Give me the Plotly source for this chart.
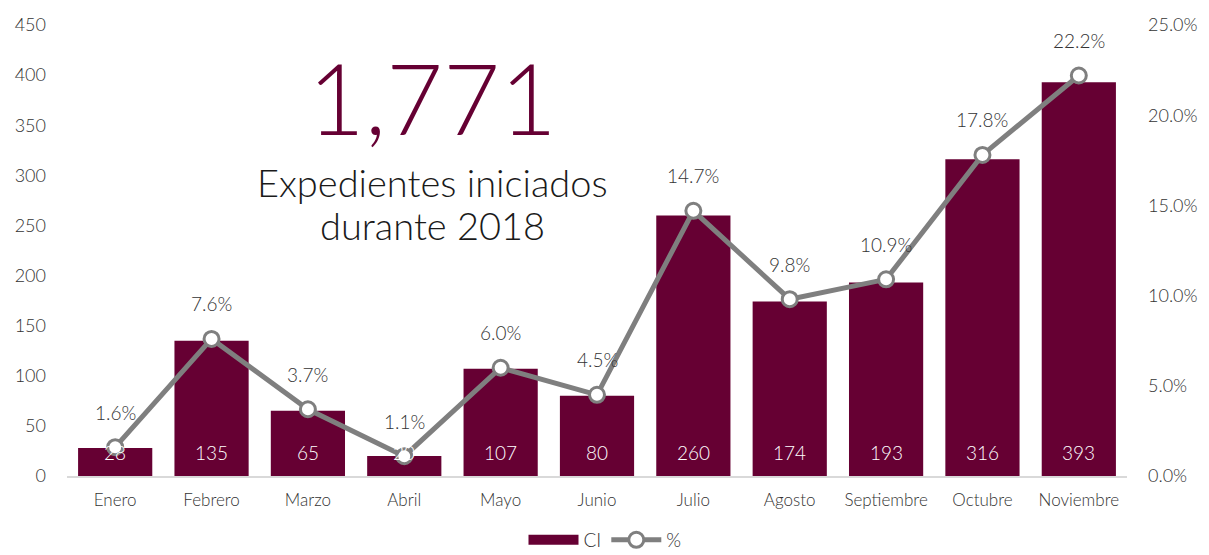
import plotly.graph_objects as go

months = ["Enero", "Febrero", "Marzo", "Abril", "Mayo", "Junio", "Julio",
          "Agosto", "Septiembre", "Octubre", "Noviembre"]
ci_values = [28, 135, 65, 20, 107, 80, 260, 174, 193, 316, 393]
pct_values = [1.6, 7.6, 3.7, 1.1, 6.0, 4.5, 14.7, 9.8, 10.9, 17.8, 22.2]
left_ticks = [0, 50, 100, 150, 200, 250, 300, 350, 400, 450]
right_ticks = [0, 5, 10, 15, 20, 25]
total_label = "1,771"
subtitle_1 = "Expedientes iniciados"
subtitle_2 = "durante 2018"

BAR = "#660033"
LINE = "#7f7f7f"
TXT = "#333333"
FONT = "Lato"
W = 300

# page body has an 8px margin; figure sized to fit the window exactly
OFF = 8
FW, FH = 1209 - OFF, 555 - OFF
L, T = 67 - OFF, 25 - OFF
R = FW - (1127 - OFF)
B = FH - (476 - OFF)
PW = FW - L - R
PH = FH - T - B


def py(win_y):
    return (476 - win_y) / PH


def px(win_x):
    return (win_x - 67) / PW


fig = go.Figure()
fig.add_trace(go.Bar(
    x=months, y=ci_values, name="CI", marker_color=BAR,
    marker_line_width=0, width=0.77, showlegend=False,
))
fig.add_trace(go.Scatter(
    x=[None], y=[None], name="CI", mode="lines",
    line=dict(color=BAR, width=14), showlegend=True,
))
fig.add_trace(go.Scatter(
    x=months, y=pct_values, name="%", yaxis="y2",
    mode="lines+markers",
    line=dict(color=LINE, width=5),
    marker=dict(size=15, color="white", line=dict(color=LINE, width=3)),
))

for m, v in zip(months, ci_values):
    fig.add_annotation(x=m, y=0, yref="y", text=str(v), showarrow=False,
                       yanchor="middle", yshift=24,
                       font=dict(family=FONT, size=19, color="white", weight=W))
for m, p in zip(months, pct_values):
    fig.add_annotation(x=m, y=p, yref="y2", text=f"{p:.1f}%", showarrow=False,
                       yanchor="middle", yshift=35,
                       font=dict(family=FONT, size=19, color=TXT, weight=W))

fig.add_annotation(xref="paper", yref="paper", x=px(432), y=py(97),
                   text=total_label, showarrow=False, xanchor="center", yanchor="middle",
                   font=dict(family=FONT, size=98, color=BAR, weight=W))
fig.add_annotation(xref="paper", yref="paper", x=px(432), y=py(182),
                   text=subtitle_1, showarrow=False, xanchor="center", yanchor="middle",
                   font=dict(family=FONT, size=38, color="#1a1a1a", weight=W))
fig.add_annotation(xref="paper", yref="paper", x=px(432), y=py(225),
                   text=subtitle_2, showarrow=False, xanchor="center", yanchor="middle",
                   font=dict(family=FONT, size=38, color="#1a1a1a", weight=W))

fig.update_layout(
    width=FW, height=FH,
    margin=dict(l=L, r=R, t=T, b=B, autoexpand=False),
    paper_bgcolor="white", plot_bgcolor="white",
    font=dict(family=FONT, color=TXT, weight=W),
    showlegend=True,
    legend=dict(orientation="h", x=px(605), xanchor="center", y=-(B + 4) / PH,
                yanchor="bottom", font=dict(family=FONT, size=19, color=TXT, weight=W),
                itemwidth=50, tracegroupgap=0),
    xaxis=dict(range=[-0.5, len(months) - 0.5], showgrid=False, showline=True,
               linecolor="#d9d9d9", linewidth=2, ticks="", automargin=False,
               ticklabelstandoff=8,
               tickfont=dict(family=FONT, size=17, color=TXT, weight=W)),
    yaxis=dict(range=[0, 450], tickvals=left_ticks, showgrid=False, zeroline=False,
               automargin=False,
               tickfont=dict(family=FONT, size=18, color=TXT, weight=W), ticklabelstandoff=20),
    yaxis2=dict(range=[0, 25], tickvals=right_ticks,
                ticktext=[f"{t:.1f}%" for t in right_ticks], overlaying="y",
                side="right", showgrid=False, zeroline=False, automargin=False,
                tickfont=dict(family=FONT, size=18, color=TXT, weight=W), ticklabelstandoff=20),
)

fig.write_html("out.html")
